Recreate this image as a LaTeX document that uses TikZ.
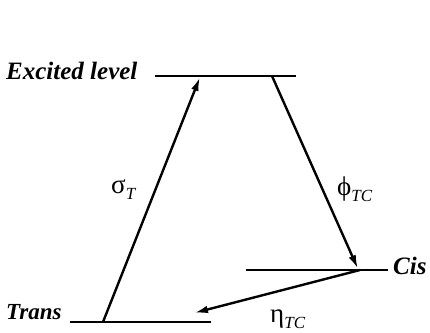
\documentclass[tikz,border=0pt]{standalone}
\usepackage{fontspec}
\setmainfont{Liberation Serif}
\usetikzlibrary{arrows.meta}
\newcommand{\lvlsub}[1]{\raisebox{-0.25em}{\fontsize{17}{17}\selectfont\textit{#1}}}
\tikzset{
  level/.style={line width=2.6pt},
  trans/.style={line width=2.4pt,-{Latex[length=14pt,width=7.5pt]}},
  lbl/.style={inner sep=0pt,font=\fontsize{25}{29}\selectfont\bfseries\itshape},
  glbl/.style={inner sep=0pt,font=\fontsize{27}{30}\selectfont}
}
\begin{document}
\begin{tikzpicture}[x=1pt,y=1pt]
\useasboundingbox (0,0) rectangle (430,332);
% levels
\coordinate (E1) at (155,256); \coordinate (E2) at (296,256);
\coordinate (C1) at (246,62);  \coordinate (C2) at (388,62);
\coordinate (T1) at (70,10);   \coordinate (T2) at (211,10);
\draw[level] (E1) -- (E2);
\draw[level] (C1) -- (C2);
\draw[level] (T1) -- (T2);
% arrow end points
\coordinate (aS) at (103,10);  \coordinate (aE) at (200,255);
\coordinate (bS) at (272,256); \coordinate (bE) at (358,63);
\coordinate (cS) at (360,62);  \coordinate (cE) at (194,19);
\draw[trans] (aS) -- (aE);
\draw[trans] (bS) -- (bE);
\draw[trans] (cS) -- (cE);
% labels
\node[lbl,anchor=base west] (lE) at (6,252) {Excited level};
\node[lbl,anchor=base west,font=\fontsize{23}{27}\selectfont\bfseries\itshape] (lT) at (6,13) {Trans};
\node[lbl,anchor=base west] (lC) at (393,58) {Cis};
\node[glbl,anchor=base west] (ls) at (111,139) {σ\lvlsub{T}};
\node[glbl,anchor=base west] (lp) at (337,137) {ϕ\lvlsub{TC}};
\node[glbl,anchor=base west] (le) at (270,10) {η\lvlsub{TC}};
\end{tikzpicture}
\end{document}
